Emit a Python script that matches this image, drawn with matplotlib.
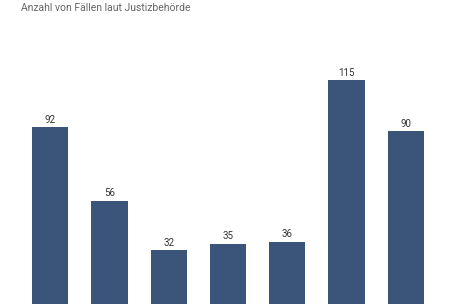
import matplotlib
matplotlib.use("Agg")
from matplotlib import pyplot as plt
from matplotlib.patches import FancyBboxPatch

# x-axis labels are cut off in the reference, so categories are just slots
categories = ["1", "2", "3", "4", "5", "6", "7"]
cases = [92, 56, 32, 35, 36, 115, 90]
subtitle = "Anzahl von Fällen laut Justizbehörde"

bar_color = "#3b5479"

plt.rcParams['font.family'] = ['Roboto', 'DejaVu Sans']

fig = plt.figure(figsize=(4.56, 3.04), dpi=100)
# axes runs below the bottom edge: the picture is cropped above the baseline
ax = fig.add_axes([20.5 / 456, -11.4 / 304, 415 / 456, 290 / 304])

x = range(len(categories))
bars = ax.bar(x, cases, width=0.61, color=bar_color)
ax.set_xlim(-0.5, len(categories) - 0.5)
ax.set_ylim(0, 290 / 2.045)

for b, v in zip(bars, cases):
    ax.text(b.get_x() + b.get_width() / 2, v + 1.2, str(v), ha="center", va="bottom",
            fontsize=7, color="#333333")

for s in ax.spines.values():
    s.set_visible(False)
ax.set_xticks([])
ax.set_yticks([])

fig.text(21 / 456, 1 - 8 / 304, subtitle, ha="left", va="center", fontsize=7.5, color="#666666")

fig.savefig("out.png", dpi=100)
